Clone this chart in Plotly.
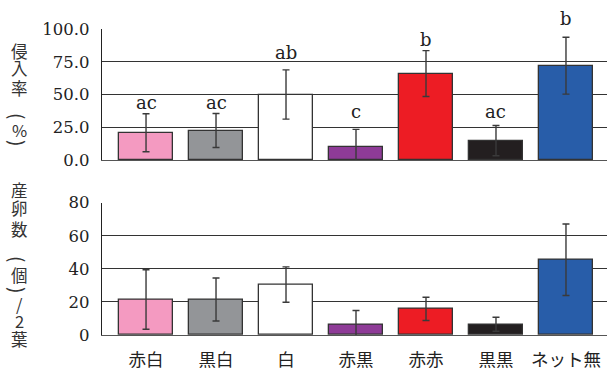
import plotly.graph_objects as go
from plotly.subplots import make_subplots

categories = ["赤白", "黒白", "白", "赤黒", "赤赤", "黒黒", "ネット無"]
invasion_mean = [20.8, 22.5, 50.0, 10.2, 66.0, 14.8, 72.0]
invasion_err = [14.5, 13.0, 18.8, 13.2, 17.5, 11.5, 21.7]
invasion_letters = ["ac", "ac", "ab", "c", "b", "ac", "b"]
letter_y = [43.8, 43.8, 82.1, 37.0, 91.8, 37.0, 107.7]
eggs_mean = [21.5, 21.5, 30.5, 6.5, 15.8, 6.5, 45.5]
eggs_err = [18.0, 13.0, 10.7, 8.3, 7.0, 4.2, 21.6]
colors = ["#F49AC1", "#939598", "#FFFFFF", "#8E3B97", "#ED1C24", "#231F20", "#285DA9"]
top_ticks = [0, 25, 50, 75, 100]
top_ticktext = ["0.0", "25.0", "50.0", "75.0", "100.0"]
bot_ticks = [0, 20, 40, 60, 80]
top_title_chars = ["侵", "入", "率", "(", "%", ")"]
top_title_pos = [51, 68, 88, 116, 130, 143]
bot_title_chars = ["産", "卵", "数", "(", "個", ")", "/", "2", "葉"]
bot_title_pos = [190, 208, 229, 259, 275, 290, 304, 321, 339]

W, H = 607, 370
mt, mb, ml, mr = 29, 35, 102, 0
ph = H - mt - mb
pw = W - ml - mr
top_dom = [1 - 131 / ph, 1]
bot_dom = [0, 132.3 / ph]

fig = make_subplots(rows=2, cols=1, shared_xaxes=False, vertical_spacing=0.1)

err_style = dict(color="#3a3a3a", thickness=1.4, width=3.5)
bar_line = dict(color="#333333", width=1.3)

fig.add_trace(go.Bar(x=list(range(len(categories))), y=invasion_mean,
                     marker=dict(color=colors, line=bar_line), width=0.76,
                     error_y=dict(type="data", array=invasion_err, visible=True, **err_style),
                     cliponaxis=False, showlegend=False), row=1, col=1)
fig.add_trace(go.Bar(x=list(range(len(categories))), y=eggs_mean,
                     marker=dict(color=colors, line=bar_line), width=0.76,
                     error_y=dict(type="data", array=eggs_err, visible=True, **err_style),
                     cliponaxis=False, showlegend=False), row=2, col=1)

xr = [-0.629, 6.586]
serif = "DejaVu Serif"
jp = "Noto Sans CJK JP"
grid = dict(showgrid=True, gridcolor="#333333", gridwidth=1.3, zeroline=False,
            showline=True, linecolor="#222222", linewidth=1.3, ticks="", automargin=False,
            ticklabelstandoff=8, tickfont=dict(family=serif, size=16.5, color="#222"))

fig.update_layout(
    width=W, height=H, margin=dict(l=ml, r=mr, t=mt, b=mb, autoexpand=False),
    paper_bgcolor="white", plot_bgcolor="white", bargap=0,
    xaxis=dict(domain=[0, 1], range=xr, showticklabels=False, showgrid=False, zeroline=False,
               showline=True, linecolor="#555555", linewidth=1.3, ticks="", automargin=False),
    xaxis2=dict(domain=[0, 1], range=xr, tickvals=list(range(len(categories))), ticktext=categories,
                showgrid=False, zeroline=False, showline=True, linecolor="#555555", linewidth=1.3,
                ticks="", ticklabelstandoff=9, automargin=False,
                tickfont=dict(family=jp, size=17.5, color="#222")),
    yaxis=dict(domain=top_dom, range=[0, 100], tickvals=top_ticks, ticktext=top_ticktext, **grid),
    yaxis2=dict(domain=bot_dom, range=[0, 80], tickvals=bot_ticks, **grid),
)

for i, (lab, ly) in enumerate(zip(invasion_letters, letter_y)):
    py = top_dom[0] + (top_dom[1] - top_dom[0]) * ly / 100
    fig.add_annotation(x=i, y=py, xref="x", yref="paper", text=lab, showarrow=False,
                       yanchor="middle", font=dict(family=serif, size=18, color="#222"))

tx = (19 - ml) / pw


def add_title(chars, pos):
    for ch, p in zip(chars, pos):
        is_paren = ch in "()"
        fig.add_annotation(x=tx, y=1 - (p - mt) / ph, xref="paper", yref="paper", text=ch,
                           showarrow=False, xanchor="center", yanchor="middle",
                           textangle=90 if is_paren else 0,
                           font=dict(family=jp, size=19 if is_paren else 16.5, color="#333"))


add_title(top_title_chars, top_title_pos)
add_title(bot_title_chars, bot_title_pos)

fig.write_html("out.html")
